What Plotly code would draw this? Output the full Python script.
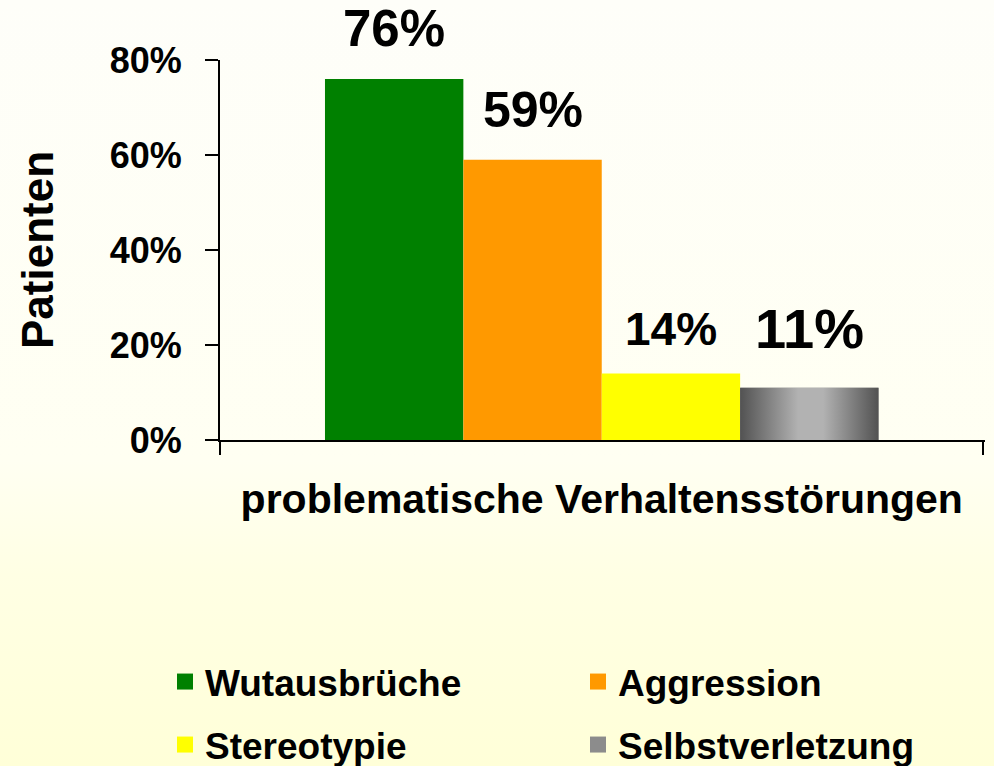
import base64
import plotly.graph_objects as go

# ---- data ----
category = ["problematische Verhaltensstörungen"]
series_names = ["Wutausbrüche", "Aggression", "Stereotypie", "Selbstverletzung"]
series_values = [76, 59, 14, 11]
value_labels = ["76%", "59%", "14%", "11%"]
y_tick_values = [0, 20, 40, 60, 80]
y_tick_labels = ["0%", "20%", "40%", "60%", "80%"]

# ---- styles ----
colors = ["#008000", "#FF9900", "#FFFF00", "#8C8C8C"]
label_sizes = [51, 50, 46, 56]
label_shifts = [20, 20, 17, 26]
FONT = "Liberation Sans, Arial, sans-serif"
BARGAP = 0.275
n = len(series_names)
bar_w = (1 - BARGAP) / n

VIEW_H = 766                      # visible window height
W, H = 994, 790                   # figure slightly taller; lower padding falls outside the window
ML, MR, MT = 220, 9, 60
PLOT_BOTTOM = 440
MB = H - PLOT_BOTTOM
pw, ph = W - ML - MR, PLOT_BOTTOM - MT

fig = go.Figure()
for i, (name, val) in enumerate(zip(series_names, series_values)):
    fig.add_trace(go.Bar(
        x=category, y=[val], name=name,
        marker=dict(color=colors[i], line=dict(width=0)),
        showlegend=False,
    ))

# gradient overlay for the grey bar (same position as the bar, computed from layout params)
gi = 3
cx = (gi - (n - 1) / 2) * bar_w
x_left, x_right = cx - bar_w / 2, cx + bar_w / 2
gv = series_values[gi]
fig.add_trace(go.Scatter(
    x=[x_left, x_right, x_right, x_left, x_left],
    y=[0, 0, gv, gv, 0],
    xaxis="x2", mode="lines", line=dict(width=0), fill="toself",
    fillgradient=dict(type="horizontal",
                      colorscale=[[0, "#525252"], [0.42, "#b2b2b2"], [0.6, "#b2b2b2"], [1, "#525252"]]),
    showlegend=False, hoverinfo="skip",
))

# legend entries (square symbols, larger than the default bar swatches)
for i, name in enumerate(series_names):
    fig.add_trace(go.Scatter(
        x=[None], y=[None], name=name, mode="markers",
        marker=dict(symbol="square", size=16, color=colors[i], line=dict(width=0)),
        legend="legend" if i < 2 else "legend2", hoverinfo="skip",
    ))

# value labels
for i, (val, lab) in enumerate(zip(series_values, value_labels)):
    fig.add_annotation(
        x=(i - (n - 1) / 2) * bar_w, y=val, xref="x", yref="y",
        text=lab, showarrow=False, yanchor="bottom", yshift=label_shifts[i],
        font=dict(family=FONT, size=label_sizes[i], color="black", weight="bold"),
    )

# background gradient image (covers the visible window)
svg = (
    f'<svg xmlns="http://www.w3.org/2000/svg" width="{W}" height="{VIEW_H}" preserveAspectRatio="none">'
    '<defs><linearGradient id="g" x1="0" y1="0" x2="0" y2="1">'
    '<stop offset="0" stop-color="#FEFEF9"/>'
    '<stop offset="0.6" stop-color="#FFFFF2"/>'
    '<stop offset="0.75" stop-color="#FFFFE4"/>'
    '<stop offset="1" stop-color="#FFFFD8"/>'
    '</linearGradient></defs>'
    f'<rect width="{W}" height="{VIEW_H}" fill="url(#g)"/></svg>'
)
src = "data:image/svg+xml;base64," + base64.b64encode(svg.encode()).decode()
fig.add_layout_image(dict(
    source=src, xref="paper", yref="paper",
    x=-ML / pw, y=1 + MT / ph, sizex=W / pw, sizey=VIEW_H / ph,
    xanchor="left", yanchor="top", sizing="stretch", layer="below",
))

legend_common = dict(
    orientation="h", xref="paper", yref="paper",
    xanchor="left", yanchor="middle",
    entrywidth=368, entrywidthmode="pixels", itemsizing="trace",
    font=dict(family=FONT, size=37, color="black", weight="bold"),
    bgcolor="rgba(0,0,0,0)", itemclick=False, itemdoubleclick=False,
)
leg_x = (165 - ML) / pw

fig.update_layout(
    width=W, height=H, autosize=False,
    margin=dict(l=ML, r=MR, t=MT, b=MB),
    paper_bgcolor="#FFFFD8", plot_bgcolor="rgba(0,0,0,0)",
    barmode="group", bargap=BARGAP, bargroupgap=0,
    font=dict(family=FONT, color="black"),
    showlegend=True,
    legend=dict(x=leg_x, y=(PLOT_BOTTOM - 682) / ph, **legend_common),
    legend2=dict(x=leg_x, y=(PLOT_BOTTOM - 745) / ph, **legend_common),
    xaxis=dict(
        type="category", range=[-0.5, 0.502],
        showline=True, linecolor="black", linewidth=2,
        ticks="outside", tickson="boundaries", ticklen=13, tickwidth=2, tickcolor="black",
        ticklabelstandoff=22,
        tickfont=dict(family=FONT, size=41, color="black", weight="bold"),
        showgrid=False, zeroline=False, fixedrange=True,
    ),
    xaxis2=dict(range=[-0.5, 0.502], overlaying="x", anchor="y", visible=False, fixedrange=True),
    yaxis=dict(
        range=[0, 80], tickvals=y_tick_values, ticktext=y_tick_labels,
        showline=True, linecolor="black", linewidth=2,
        ticks="outside", ticklen=13, tickwidth=2, tickcolor="black",
        ticklabelstandoff=16,
        tickfont=dict(family=FONT, size=36, color="black", weight="bold"),
        title=dict(text="Patienten", standoff=42,
                   font=dict(family=FONT, size=44, color="black", weight="bold")),
        showgrid=False, zeroline=False, fixedrange=True,
    ),
)

fig.write_html(
    "out.html",
    config={"displayModeBar": False},
    post_script="document.body.style.margin='0';document.body.style.overflow='hidden';",
)
